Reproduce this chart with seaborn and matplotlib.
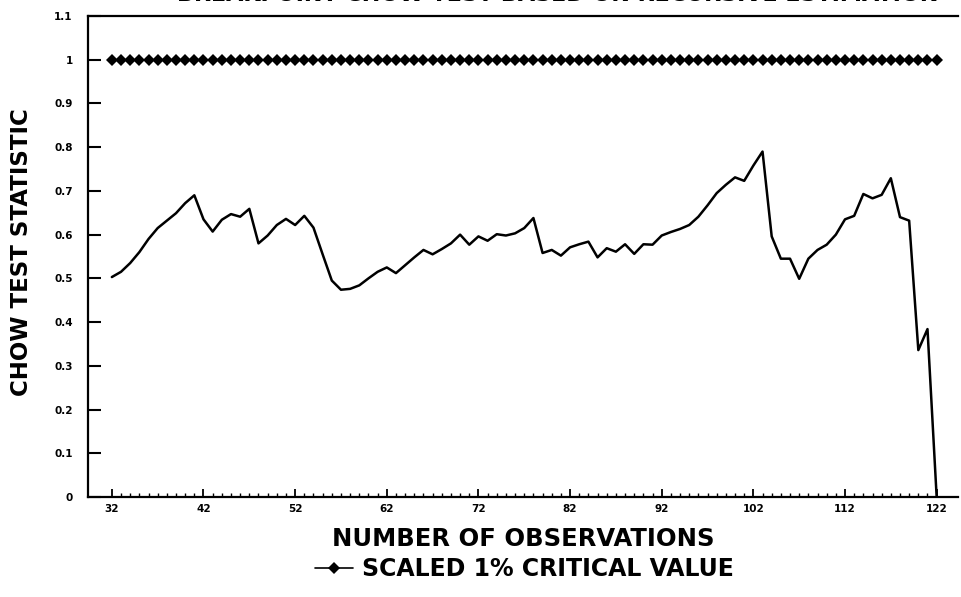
import numpy as np
import pandas as pd
import matplotlib
matplotlib.use("Agg")
import matplotlib.pyplot as plt
import seaborn as sns
from matplotlib.ticker import FixedLocator

# --- DATA ---
obs = list(range(32, 123))
chow_stat = [0.503, 0.515, 0.535, 0.56, 0.59, 0.615, 0.632, 0.649, 0.672, 0.69,
             0.635, 0.607, 0.634, 0.647, 0.641, 0.659, 0.58, 0.598, 0.622, 0.636,
             0.622, 0.643, 0.616, 0.555, 0.495, 0.474, 0.476, 0.484, 0.50, 0.515,
             0.525, 0.512, 0.53, 0.548, 0.565, 0.555, 0.567, 0.58, 0.60, 0.577,
             0.596, 0.586, 0.601, 0.598, 0.603, 0.615, 0.638, 0.558, 0.565, 0.552,
             0.571, 0.578, 0.584, 0.548, 0.569, 0.561, 0.578, 0.556, 0.578, 0.577,
             0.598, 0.606, 0.613, 0.622, 0.641, 0.667, 0.695, 0.714, 0.731, 0.723,
             0.758, 0.79, 0.596, 0.545, 0.545, 0.499, 0.545, 0.565, 0.577, 0.60,
             0.635, 0.643, 0.693, 0.683, 0.691, 0.729, 0.64, 0.632, 0.336, 0.384,
             0.0]
critical = [1.0] * len(obs)

y_ticks = [0, 0.1, 0.2, 0.3, 0.4, 0.5, 0.6, 0.7, 0.8, 0.9, 1.0, 1.1]
y_labels = ["0", "0.1", "0.2", "0.3", "0.4", "0.5", "0.6", "0.7", "0.8", "0.9", "1", "1.1"]
x_ticks = [32, 42, 52, 62, 72, 82, 92, 102, 112, 122]

df = pd.DataFrame({"obs": obs, "chow": chow_stat, "crit": critical})

sns.set_style("ticks")
plt.rcParams['font.family'] = ['DejaVu Sans']
plt.rcParams.update({"text.color": "black", "axes.labelcolor": "black",
                     "xtick.color": "black", "ytick.color": "black"})

fig = plt.figure(figsize=(9.61, 5.97), dpi=100)
ax = fig.add_axes([0.0916, 0.1675, 0.905, 0.8057])

# --- CRITICAL VALUE LINE (with diamonds) ---
sns.lineplot(data=df, x="obs", y="crit", ax=ax, color="black", lw=1.2,
             marker="D", markersize=6.5, markeredgewidth=0,
             label="SCALED 1% CRITICAL VALUE")
# --- CHOW STATISTIC ---
sns.lineplot(data=df, x="obs", y="chow", ax=ax, color="black", lw=1.8,
             legend=False)

ax.set_xlim(29.4, 124.3)
ax.set_ylim(0, 1.1)

ax.set_yticks(y_ticks)
ax.set_yticklabels(y_labels)
ax.set_xticks(x_ticks)
ax.xaxis.set_minor_locator(FixedLocator(obs))

ax.tick_params(axis="y", direction="in", length=9, width=1.5, pad=11,
               labelsize=7.5)
ax.tick_params(axis="x", which="major", direction="in", length=6, width=1.3,
               pad=5, labelsize=7.5)
ax.tick_params(axis="x", which="minor", direction="in", length=3, width=1.0)
for lab in ax.get_xticklabels() + ax.get_yticklabels():
    lab.set_fontweight("bold")

for side in ["left", "bottom", "top"]:
    ax.spines[side].set_linewidth(1.6)
    ax.spines[side].set_color("black")
ax.spines["right"].set_visible(False)

ax.set_xlabel("NUMBER OF OBSERVATIONS", fontsize=17.5, fontweight="bold")
ax.set_ylabel("CHOW TEST STATISTIC", fontsize=16.5, fontweight="bold")
ax.xaxis.set_label_coords(0.501, -0.063)
ax.yaxis.set_label_coords(-0.063, 0.51)

# title is cut off at the top of the scan
fig.text(0.58, 0.9985, "BREAKPOINT CHOW TEST BASED ON RECURSIVE ESTIMATION",
         ha="center", va="baseline", fontsize=16, fontweight="bold")

ax.get_legend().remove()
handles, labels = ax.get_legend_handles_labels()
fig.legend(handles[:1], labels[:1], loc="center", bbox_to_anchor=(0.546, 0.047),
           frameon=False, handlelength=1.6, handletextpad=0.4,
           prop={"size": 17, "weight": "bold"})

fig.savefig("out.png", dpi=100)
